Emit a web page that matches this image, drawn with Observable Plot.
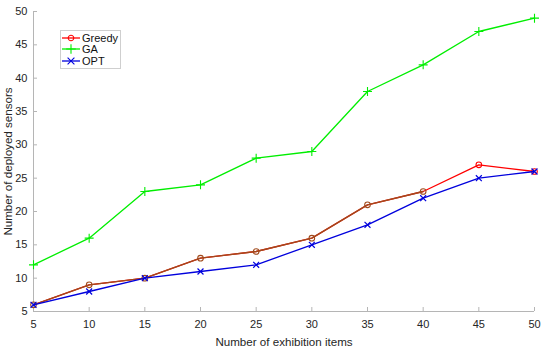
<!DOCTYPE html>
<html>
<head>
<meta charset="utf-8">
<script src="https://cdn.jsdelivr.net/npm/d3@7"></script>
<script src="https://cdn.jsdelivr.net/npm/@observablehq/plot@0.6"></script>
<style>
  html, body { margin: 0; padding: 0; background: #fff; }
  #wrap { position: relative; width: 550px; height: 352px; font-family: "Liberation Sans", Arial, sans-serif; }
  #legend { position: absolute; left: 60px; top: 30px; background: #fff; border: 1px solid #cfcfcf; padding: 1px 2px 1px 1px; font-size: 11px; color: #111; }
  #legend .row { display: flex; align-items: center; height: 11.5px; }
  #legend svg { display: block; margin-right: 2px; }
</style>
</head>
<body>
<div id="wrap"></div>
<script>
const items = [5, 10, 15, 20, 25, 30, 35, 40, 45, 50];
const greedy = [6, 9, 10, 13, 14, 16, 21, 23, 27, 26];
const ga = [12, 16, 23, 24, 28, 29, 38, 42, 47, 49];
const opt = [6, 8, 10, 11, 12, 15, 18, 22, 25, 26];
const seriesNames = ["Greedy", "GA", "OPT"];
const seriesColors = ["#ff0000", "#00ee00", "#0000dd"];
const seriesSymbols = ["circle", "plus", "times"];
const xTicks = [5, 10, 15, 20, 25, 30, 35, 40, 45, 50];
const yTicks = [5, 10, 15, 20, 25, 30, 35, 40, 45, 50];

const seriesValues = [greedy, ga, opt];
const rows = [];
seriesNames.forEach((name, i) => items.forEach((x, j) => rows.push({series: name, x, y: seriesValues[i][j]})));
const greedyRows = rows.filter(d => d.series === "Greedy");
const gaRows = rows.filter(d => d.series === "GA");
const optRows = rows.filter(d => d.series === "OPT");
const axisColor = "#b5b5b5";
const textColor = "#262626";

const chart = Plot.plot({
  width: 550,
  height: 352,
  marginLeft: 33,
  marginRight: 16,
  marginTop: 11,
  marginBottom: 41,
  style: {fontFamily: "Liberation Sans, Arial, sans-serif", fontSize: "11px", color: textColor, background: "#fff"},
  x: {domain: [5, 50]},
  y: {domain: [5, 50]},
  marks: [
    Plot.ruleX([5], {stroke: axisColor}),
    Plot.ruleY([5], {stroke: axisColor}),
    Plot.axisX({ticks: xTicks, tickSize: 4, dy: -4, text: null, label: null, stroke: axisColor}),
    Plot.axisY({ticks: yTicks, tickSize: 4, dx: 4, text: null, label: null, stroke: axisColor}),
    Plot.axisX({ticks: xTicks, tickSize: 0, tickPadding: 9, fontSize: 11, fill: textColor, label: null}),
    Plot.axisY({ticks: yTicks, tickSize: 0, tickPadding: 6, fontSize: 11, fill: textColor, label: null}),
    Plot.axisX({ticks: [], tickSize: 0, fontSize: 11.6, fill: textColor,
      label: "Number of exhibition items", labelArrow: "none", labelAnchor: "center", labelOffset: 34}),
    Plot.axisY({ticks: [], tickSize: 0, fontSize: 11.6, fill: textColor,
      label: "Number of deployed sensors", labelArrow: "none", labelAnchor: "center", labelOffset: 30}),
    Plot.line(gaRows, {x: "x", y: "y", stroke: seriesColors[1], strokeWidth: 1.3}),
    Plot.dot(gaRows, {x: "x", y: "y", symbol: seriesSymbols[1], stroke: seriesColors[1], r: 3, strokeWidth: 1.1}),
    Plot.line(greedyRows, {x: "x", y: "y", stroke: seriesColors[0], strokeWidth: 1.3}),
    Plot.line(greedyRows.filter(d => d.x <= 40), {x: "x", y: "y", stroke: "#a04a1c", strokeWidth: 1.3}),
    Plot.dot(greedyRows, {x: "x", y: "y", symbol: seriesSymbols[0], stroke: d => d.x <= 40 ? "#a04a1c" : seriesColors[0], r: 2.8, strokeWidth: 1.1}),
    Plot.line(optRows, {x: "x", y: "y", stroke: seriesColors[2], strokeWidth: 1.3}),
    Plot.dot(optRows, {x: "x", y: "y", symbol: seriesSymbols[2], stroke: seriesColors[2], r: 2.8, strokeWidth: 1.2})
  ]
});

const wrap = document.getElementById("wrap");
wrap.appendChild(chart);

const legend = document.createElement("div");
legend.id = "legend";
seriesNames.forEach((name, i) => {
  const row = document.createElement("div");
  row.className = "row";
  const sw = d3.create("svg").attr("width", 18).attr("height", 10);
  sw.append("line").attr("x1", 0).attr("x2", 18).attr("y1", 5).attr("y2", 5).attr("stroke", seriesColors[i]).attr("stroke-width", 1.3);
  sw.append("path").attr("transform", "translate(9,5)")
    .attr("d", d3.symbol(i === 0 ? d3.symbolCircle : i === 1 ? d3.symbolPlus : d3.symbolTimes, i === 0 ? 24 : 32)())
    .attr("fill", "none").attr("stroke", seriesColors[i]).attr("stroke-width", 1.1);
  row.appendChild(sw.node());
  const t = document.createElement("span");
  t.textContent = name;
  row.appendChild(t);
  legend.appendChild(row);
});
wrap.appendChild(legend);
</script>
</body>
</html>
